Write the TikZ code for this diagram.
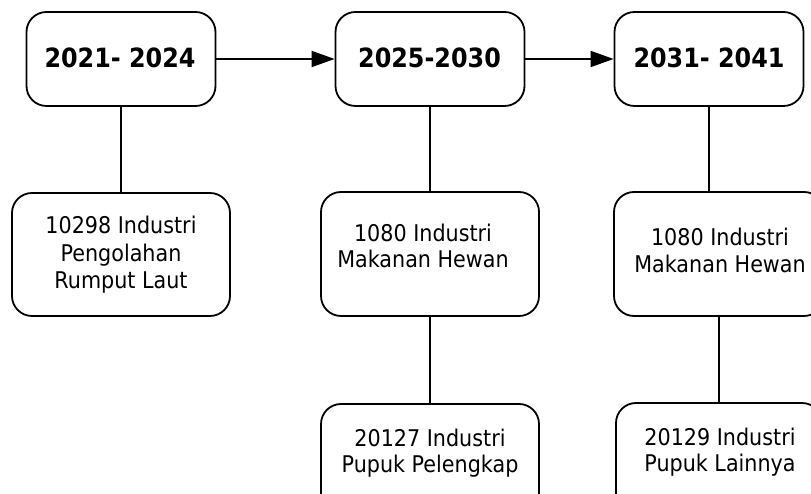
\documentclass[tikz,border=0pt]{standalone}
\usepackage{fontspec}
\setmainfont{DejaVu Sans}[FakeStretch=0.9]
\usetikzlibrary{arrows.meta}
\begin{document}
\begin{tikzpicture}[x=1pt,y=1pt,
  box/.style={draw, line width=1.8pt, rounded corners=20pt, inner sep=0pt},
  head/.style={font=\fontsize{26.5}{30}\selectfont\bfseries, anchor=base},
  txt/.style={align=center, anchor=base, inner sep=0pt},
  link/.style={line width=1.8pt},
  arr/.style={line width=1.8pt, -{Triangle[length=23pt,width=16pt]}}]
\useasboundingbox (0,0) rectangle (811,494);
\clip (0,0) rectangle (811,494);
\fill[white] (0,0) rectangle (811,494);
% top boxes
\node[box, minimum width=189pt, minimum height=94pt] (A) at (121,435) {};
\node[box, minimum width=189pt, minimum height=94pt] (B) at (430,435) {};
\node[box, minimum width=189pt, minimum height=94pt] (C) at (709,435) {};
% lower boxes
\node[box, minimum width=218pt, minimum height=123pt] (A1) at (121,239.5) {};
\node[box, minimum width=218pt, minimum height=124pt] (B1) at (430,240) {};
\node[box, minimum width=210pt, minimum height=124pt] (C1) at (719,240) {};
\node[box, minimum width=218pt, minimum height=124pt] (B2) at (430,28) {};
\node[box, minimum width=206pt, minimum height=124pt] (C2) at (719,29) {};
% texts
\node[head] (tA) at (120,426) {2021- 2024};
\node[head] (tB) at (429.5,426) {2025-2030};
\node[head] (tC) at (709,426) {2031- 2041};
\node[txt, font=\fontsize{23}{27.5}\selectfont] (tA1) at (121,205) {10298 Industri\\Pengolahan\\Rumput Laut};
\node[txt, font=\fontsize{23}{26}\selectfont] (tB1) at (423,226) {1080 Industri\\Makanan Hewan};
\node[txt, font=\fontsize{23}{27}\selectfont] (tC1) at (720,221) {1080 Industri\\Makanan Hewan};
\node[txt, font=\fontsize{23}{26}\selectfont] (tB2) at (430,21) {20127 Industri\\Pupuk Pelengkap};
\node[txt, font=\fontsize{23}{26.5}\selectfont] (tC2) at (720,22.3) {20129 Industri\\Pupuk Lainnya};
% connectors
\draw[arr] (A.east) -- (B.west);
\draw[arr] (B.east) -- (C.west);
\draw[link] (A.south) -- (A.south |- A1.north);
\draw[link] (B.south) -- (B.south |- B1.north);
\draw[link] (C.south) -- (C.south |- C1.north);
\draw[link] (B1.south) -- (B2.north);
\draw[link] (C1.south) -- (C2.north);
\end{tikzpicture}
\end{document}
